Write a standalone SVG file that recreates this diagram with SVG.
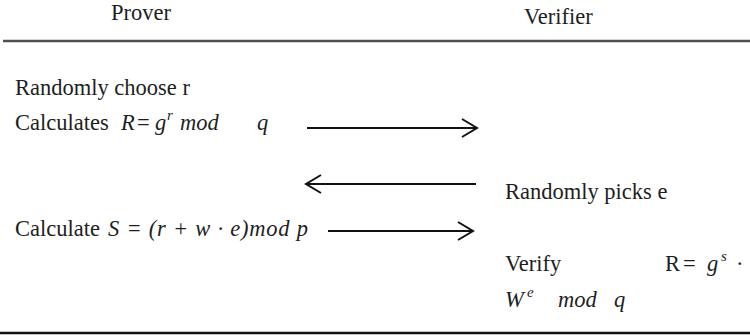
<svg xmlns="http://www.w3.org/2000/svg" width="750" height="336" viewBox="0 0 750 336">
<style>
  text { font-family: "Liberation Serif", Tinos, "Times New Roman", serif; font-size: 22.5px; fill: #1e1e1e; }
  .m { font-style: italic; }
  .sup { font-style: italic; font-size: 15px; }
  .conn { stroke: #111; stroke-width: 2; fill: none; }
</style>
<defs>
  <marker id="head" markerUnits="userSpaceOnUse" markerWidth="20" markerHeight="22" refX="0" refY="0" viewBox="-17 -11 20 22" orient="auto">
    <path d="M-15,-9 L0,0 L-15,9" fill="none" stroke="#111" stroke-width="2"/>
  </marker>
</defs>
<rect width="750" height="336" fill="#fff"/>
<g id="header">
  <text x="111" y="20">Prover</text>
  <text x="524" y="24">Verifier</text>
  <line x1="3" y1="41" x2="750" y2="41" stroke="#505050" stroke-width="2.5"/>
</g>
<g id="prover-step1">
  <text x="15" y="95">Randomly choose r</text>
  <text x="15" y="130">Calculates</text>
  <text x="121" y="130" class="m">R</text>
  <text x="137" y="130">=</text>
  <text x="155" y="130" class="m">g</text>
  <text x="167" y="120" class="sup">r</text>
  <text x="180" y="130" class="m">mod</text>
  <text x="257" y="130" class="m">q</text>
</g>
<g id="verifier-step1">
  <text x="505" y="199">Randomly picks e</text>
</g>
<g id="prover-step2">
  <text x="15" y="236">Calculate</text>
  <text x="108" y="236" class="m" textLength="200" lengthAdjust="spacing">S = (r + w · e)mod p</text>
</g>
<g id="verifier-step2">
  <text x="505" y="271">Verify</text>
  <text x="665" y="271">R</text>
  <text x="683" y="271">=</text>
  <text x="707" y="271" class="m">g</text>
  <text x="721" y="261" class="sup">s</text>
  <text x="736" y="271">·</text>
  <text x="505" y="307" class="m">W</text>
  <text x="527" y="297" class="sup">e</text>
  <text x="558" y="307" class="m">mod</text>
  <text x="614" y="307" class="m">q</text>
</g>
<g id="connectors">
  <line class="conn" x1="307" y1="128" x2="477" y2="128" marker-end="url(#head)"/>
  <line class="conn" x1="476" y1="184" x2="306" y2="184" marker-end="url(#head)"/>
  <line class="conn" x1="328" y1="231" x2="473" y2="231" marker-end="url(#head)"/>
</g>
<line x1="0" y1="333" x2="750" y2="333" stroke="#111" stroke-width="2.5"/>
</svg>
